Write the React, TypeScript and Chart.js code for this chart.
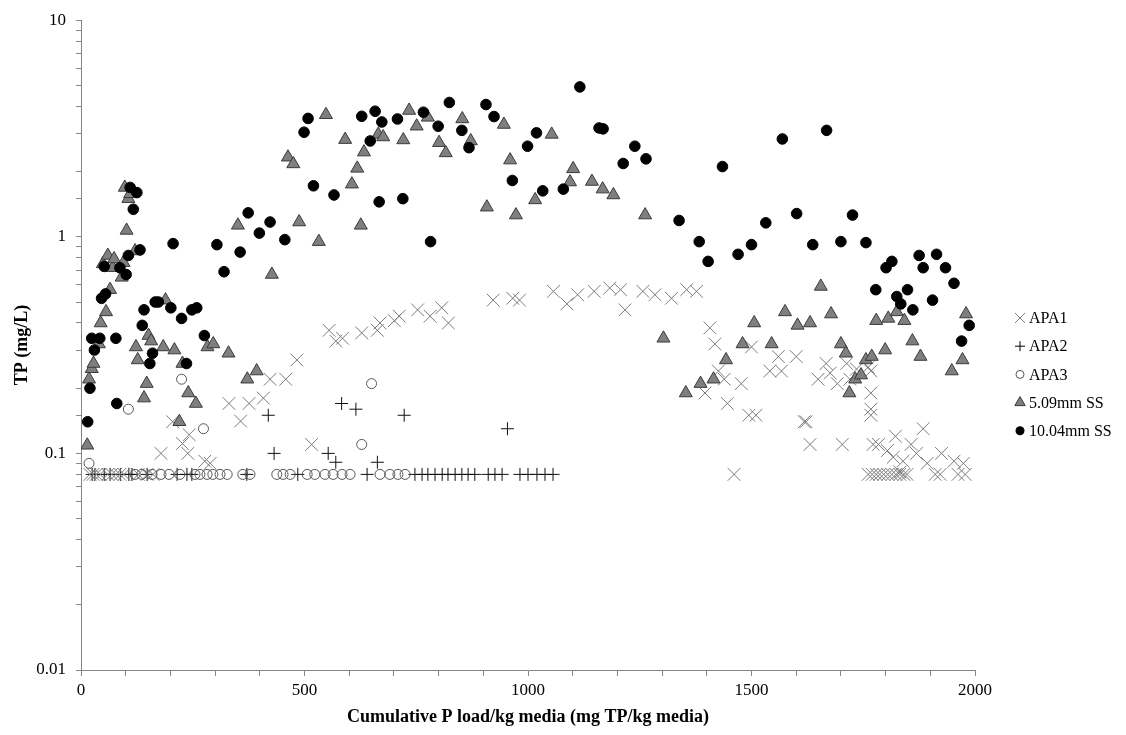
import React, { useEffect, useRef } from "react";
import { Chart, registerables } from "chart.js";

Chart.register(...registerables);

// ---------- DATA ----------
const apa1Load = [20, 27, 34, 43, 60, 69, 78, 87, 96, 128, 148, 161, 179, 205, 227, 239, 242, 277, 289, 331, 357, 376, 408, 423, 458, 483, 516, 555, 570, 585, 628, 663, 669, 701, 712, 753, 781, 807, 822, 922, 966, 981, 1057, 1087, 1111, 1148, 1183, 1207, 1217, 1257, 1284, 1321, 1355, 1377, 1396, 1407, 1418, 1426, 1439, 1446, 1461, 1477, 1494, 1500, 1510, 1541, 1560, 1567, 1600, 1618, 1622, 1631, 1649, 1667, 1676, 1692, 1703, 1713, 1720, 1735, 1761, 1761, 1767, 1767, 1767, 1767, 1770, 1772, 1779, 1784, 1787, 1796, 1804, 1805, 1814, 1817, 1822, 1823, 1832, 1832, 1839, 1841, 1848, 1857, 1869, 1884, 1893, 1911, 1922, 1925, 1953, 1962, 1974, 1978];
const apa1TP = [0.08, 0.08, 0.08, 0.08, 0.08, 0.08, 0.08, 0.08, 0.08, 0.08, 0.08, 0.08, 0.1, 0.14, 0.111, 0.1, 0.122, 0.092, 0.09, 0.17, 0.141, 0.17, 0.18, 0.22, 0.22, 0.27, 0.11, 0.37, 0.33, 0.34, 0.36, 0.37, 0.4, 0.41, 0.43, 0.46, 0.43, 0.47, 0.4, 0.51, 0.52, 0.51, 0.56, 0.49, 0.54, 0.56, 0.58, 0.57, 0.46, 0.56, 0.54, 0.52, 0.57, 0.56, 0.19, 0.38, 0.32, 0.24, 0.22, 0.17, 0.08, 0.21, 0.15, 0.31, 0.15, 0.24, 0.28, 0.24, 0.28, 0.14, 0.14, 0.11, 0.22, 0.26, 0.235, 0.21, 0.11, 0.26, 0.22, 0.245, 0.25, 0.08, 0.24, 0.19, 0.16, 0.15, 0.08, 0.11, 0.08, 0.11, 0.08, 0.08, 0.103, 0.08, 0.08, 0.096, 0.12, 0.08, 0.08, 0.082, 0.092, 0.08, 0.08, 0.11, 0.1, 0.13, 0.09, 0.08, 0.08, 0.1, 0.092, 0.08, 0.09, 0.08];

const apa2Load = [25, 31, 52, 65, 88, 107, 114, 148, 215, 237, 248, 371, 419, 432, 485, 553, 570, 583, 615, 640, 663, 723, 747, 763, 776, 792, 808, 821, 837, 852, 866, 881, 911, 926, 942, 954, 982, 1000, 1020, 1038, 1056];
const apa2TP = [0.08, 0.08, 0.08, 0.08, 0.08, 0.08, 0.08, 0.08, 0.08, 0.08, 0.08, 0.08, 0.15, 0.1, 0.08, 0.1, 0.091, 0.17, 0.16, 0.08, 0.091, 0.15, 0.08, 0.08, 0.08, 0.08, 0.08, 0.08, 0.08, 0.08, 0.08, 0.08, 0.08, 0.08, 0.08, 0.13, 0.08, 0.08, 0.08, 0.08, 0.08];

const apa3Load = [18, 106, 121, 136, 159, 179, 197, 221, 225, 255, 266, 274, 282, 295, 311, 327, 362, 378, 438, 452, 468, 506, 523, 546, 564, 584, 602, 628, 650, 669, 691, 709, 725];
const apa3TP = [0.09, 0.16, 0.08, 0.08, 0.08, 0.08, 0.08, 0.08, 0.22, 0.08, 0.08, 0.13, 0.08, 0.08, 0.08, 0.08, 0.08, 0.08, 0.08, 0.08, 0.08, 0.08, 0.08, 0.08, 0.08, 0.08, 0.08, 0.11, 0.21, 0.08, 0.08, 0.08, 0.08];

const ss509Load = [14, 18, 24, 28, 40, 44, 49, 56, 60, 65, 71, 74, 91, 95, 98, 102, 106, 110, 121, 123, 127, 141, 147, 151, 157, 184, 189, 209, 220, 227, 240, 257, 283, 296, 330, 351, 372, 393, 427, 463, 475, 488, 532, 548, 591, 606, 618, 626, 633, 665, 676, 721, 734, 751, 776, 801, 816, 853, 872, 908, 946, 960, 973, 1016, 1053, 1094, 1101, 1143, 1167, 1191, 1262, 1303, 1353, 1386, 1415, 1443, 1480, 1506, 1545, 1575, 1603, 1631, 1655, 1678, 1700, 1711, 1719, 1732, 1745, 1756, 1769, 1779, 1799, 1806, 1825, 1842, 1860, 1878, 1948, 1972, 1980];
const ss509TP = [0.109, 0.22, 0.246, 0.26, 0.32, 0.4, 0.75, 0.45, 0.82, 0.57, 0.72, 0.79, 0.65, 0.76, 1.69, 1.07, 1.5, 1.58, 0.86, 0.31, 0.27, 0.18, 0.21, 0.35, 0.33, 0.31, 0.51, 0.3, 0.14, 0.26, 0.19, 0.17, 0.31, 0.32, 0.29, 1.13, 0.22, 0.24, 0.67, 2.33, 2.17, 1.17, 0.95, 3.66, 2.81, 1.75, 2.07, 1.13, 2.46, 2.97, 2.89, 2.8, 3.83, 3.24, 3.56, 2.72, 2.44, 3.5, 2.77, 1.37, 3.3, 2.26, 1.26, 1.48, 2.97, 1.79, 2.06, 1.8, 1.66, 1.56, 1.26, 0.34, 0.19, 0.21, 0.22, 0.27, 0.32, 0.4, 0.32, 0.45, 0.39, 0.4, 0.59, 0.44, 0.32, 0.29, 0.19, 0.22, 0.23, 0.27, 0.28, 0.41, 0.3, 0.42, 0.45, 0.41, 0.33, 0.28, 0.24, 0.27, 0.44];

const ss1004Load = [15, 20, 24, 30, 42, 46, 52, 55, 78, 80, 87, 101, 106, 110, 117, 125, 132, 137, 141, 154, 160, 166, 173, 201, 206, 225, 236, 248, 259, 276, 304, 320, 356, 374, 399, 423, 456, 499, 508, 520, 566, 628, 647, 658, 667, 673, 708, 720, 766, 782, 799, 824, 852, 868, 906, 924, 965, 999, 1019, 1033, 1079, 1116, 1159, 1168, 1213, 1239, 1264, 1338, 1383, 1403, 1435, 1470, 1500, 1532, 1569, 1601, 1637, 1668, 1700, 1726, 1756, 1778, 1801, 1814, 1825, 1834, 1849, 1861, 1875, 1884, 1905, 1914, 1934, 1953, 1970, 1987];
const ss1004TP = [0.14, 0.2, 0.34, 0.3, 0.34, 0.52, 0.73, 0.545, 0.34, 0.17, 0.72, 0.67, 0.82, 1.69, 1.34, 1.6, 0.87, 0.39, 0.46, 0.26, 0.29, 0.5, 0.5, 0.47, 0.93, 0.42, 0.26, 0.46, 0.47, 0.35, 0.92, 0.69, 0.85, 1.29, 1.04, 1.17, 0.97, 3.04, 3.52, 1.72, 1.56, 3.6, 2.77, 3.8, 1.45, 3.39, 3.5, 1.5, 3.76, 0.95, 3.24, 4.17, 3.1, 2.58, 4.08, 3.59, 1.82, 2.62, 3.02, 1.63, 1.66, 4.92, 3.18, 3.15, 2.18, 2.62, 2.29, 1.19, 0.95, 0.77, 2.11, 0.83, 0.92, 1.16, 2.83, 1.28, 0.92, 3.1, 0.95, 1.26, 0.94, 0.57, 0.72, 0.77, 0.53, 0.49, 0.57, 0.46, 0.82, 0.72, 0.51, 0.83, 0.72, 0.61, 0.33, 0.39];

const seriesNames = ["APA1", "APA2", "APA3", "5.09mm SS", "10.04mm SS"];
const xTickLabels = ["0", "500", "1000", "1500", "2000"];
const yTickLabels = ["0.01", "0.1", "1", "10"];
const xTitle = "Cumulative P load/kg media (mg TP/kg media)";
const yTitle = "TP (mg/L)";

// ---------- STYLE ----------
const SERIF = "'Liberation Serif', 'Times New Roman', serif";
const AXIS_GREY = "#868686";

const toPoints = (xs: number[], ys: number[]) => xs.map((x, i) => ({ x, y: ys[i] }));

type MarkerKind = "crossRot" | "cross" | "ring" | "triangle" | "dot";
const legendMarkers: MarkerKind[] = ["crossRot", "cross", "ring", "triangle", "dot"];

function drawMarker(ctx: CanvasRenderingContext2D, kind: MarkerKind, x: number, y: number) {
  ctx.save();
  ctx.lineWidth = 1;
  ctx.beginPath();
  if (kind === "crossRot") {
    const d = 5;
    ctx.strokeStyle = "#808080";
    ctx.moveTo(x - d, y - d); ctx.lineTo(x + d, y + d);
    ctx.moveTo(x - d, y + d); ctx.lineTo(x + d, y - d);
    ctx.stroke();
  } else if (kind === "cross") {
    const d = 5;
    ctx.strokeStyle = "#000";
    ctx.moveTo(x - d, y); ctx.lineTo(x + d, y);
    ctx.moveTo(x, y - d); ctx.lineTo(x, y + d);
    ctx.stroke();
  } else if (kind === "ring") {
    ctx.strokeStyle = "#555";
    ctx.arc(x, y, 4, 0, Math.PI * 2);
    ctx.stroke();
  } else if (kind === "triangle") {
    const r = 6;
    ctx.fillStyle = "#7f7f7f";
    ctx.strokeStyle = "#3a3a3a";
    ctx.moveTo(x, y - r);
    ctx.lineTo(x + r * Math.sin((2 * Math.PI) / 3), y - r * Math.cos((2 * Math.PI) / 3));
    ctx.lineTo(x + r * Math.sin((4 * Math.PI) / 3), y - r * Math.cos((4 * Math.PI) / 3));
    ctx.closePath();
    ctx.fill();
    ctx.stroke();
  } else {
    ctx.fillStyle = "#000";
    ctx.arc(x, y, 4.5, 0, Math.PI * 2);
    ctx.fill();
  }
  ctx.restore();
}

const legendPlugin = {
  id: "sideLegend",
  afterDraw(chart: any) {
    const ctx: CanvasRenderingContext2D = chart.ctx;
    const markerX = chart.chartArea.right + 45;
    const textX = markerX + 9;
    const top = 318;
    const gap = 28.2;
    ctx.save();
    ctx.font = `16px ${SERIF}`;
    ctx.fillStyle = "#000";
    ctx.textBaseline = "middle";
    ctx.textAlign = "left";
    seriesNames.forEach((name, i) => {
      const y = top + i * gap;
      drawMarker(ctx, legendMarkers[i], markerX, y);
      ctx.fillText(name, textX, y + 1);
    });
    ctx.restore();
  },
};

export default function App() {
  const canvasRef = useRef<HTMLCanvasElement | null>(null);

  useEffect(() => {
    const canvas = canvasRef.current;
    if (!canvas) return;
    const tickFont = { family: SERIF, size: 17 };
    const titleFont = { family: SERIF, size: 18, weight: "bold" as const };

    const chart = new Chart(canvas, {
      type: "scatter",
      data: {
        datasets: [
          {
            label: seriesNames[0],
            data: toPoints(apa1Load, apa1TP),
            pointStyle: "crossRot",
            pointRadius: 9,
            pointBorderWidth: 1,
            borderColor: "#7a7a7a",
            backgroundColor: "#7a7a7a",
            order: 3,
          },
          {
            label: seriesNames[1],
            data: toPoints(apa2Load, apa2TP),
            pointStyle: "cross",
            pointRadius: 6.5,
            pointBorderWidth: 1,
            borderColor: "#111",
            backgroundColor: "#111",
            order: 4,
          },
          {
            label: seriesNames[2],
            data: toPoints(apa3Load, apa3TP),
            pointStyle: "circle",
            pointRadius: 5,
            pointBorderWidth: 1,
            borderColor: "#555",
            backgroundColor: "rgba(255,255,255,0)",
            order: 2,
          },
          {
            label: seriesNames[3],
            data: toPoints(ss509Load, ss509TP),
            pointStyle: "triangle",
            pointRadius: 7.5,
            pointBorderWidth: 1,
            borderColor: "#3a3a3a",
            backgroundColor: "#7f7f7f",
            order: 1,
          },
          {
            label: seriesNames[4],
            data: toPoints(ss1004Load, ss1004TP),
            pointStyle: "circle",
            pointRadius: 5.3,
            pointBorderWidth: 1,
            borderColor: "#000",
            backgroundColor: "#000",
            order: 0,
          },
        ],
      },
      options: {
        responsive: false,
        animation: false,
        events: [],
        layout: { padding: { top: 18, right: 151, left: 0, bottom: 0 } },
        plugins: {
          legend: { display: false },
          tooltip: { enabled: false },
          title: { display: false },
        },
        scales: {
          x: {
            type: "linear",
            min: 0,
            max: 2000,
            afterFit: (s: any) => {
              s.height = 65;
            },
            ticks: {
              stepSize: 100,
              autoSkip: false,
              maxRotation: 0,
              minRotation: 0,
              padding: 4,
              color: "#000",
              font: tickFont,
              callback: (v: any) => {
                const n = Number(v);
                return n % 500 === 0 ? xTickLabels[n / 500] : "";
              },
            },
            grid: { drawOnChartArea: false, drawTicks: true, tickLength: 6, color: AXIS_GREY },
            border: { display: true, color: AXIS_GREY },
            title: {
              display: true,
              text: xTitle,
              color: "#000",
              font: titleFont,
              padding: { top: 0, bottom: 7 },
            },
          },
          y: {
            type: "logarithmic",
            min: 0.01,
            max: 10,
            afterFit: (s: any) => {
              s.width = 81;
            },
            ticks: {
              autoSkip: false,
              padding: 10,
              color: "#000",
              font: tickFont,
              callback: (v: any) => {
                const l = Math.log10(Number(v));
                const r = Math.round(l);
                return Math.abs(l - r) < 1e-6 ? yTickLabels[r + 2] : "";
              },
            },
            grid: { drawOnChartArea: false, drawTicks: true, tickLength: 5, color: AXIS_GREY },
            border: { display: true, color: AXIS_GREY },
            title: {
              display: true,
              text: yTitle,
              color: "#000",
              font: titleFont,
              padding: { top: 12, bottom: 0 },
            },
          },
        },
      },
      plugins: [legendPlugin],
    });
    return () => chart.destroy();
  }, []);

  return (
    <div style={{ position: "absolute", left: 0, top: 0, width: 1126, height: 735, background: "#fff" }}>
      <canvas ref={canvasRef} width={1126} height={735} style={{ display: "block" }} />
    </div>
  );
}
